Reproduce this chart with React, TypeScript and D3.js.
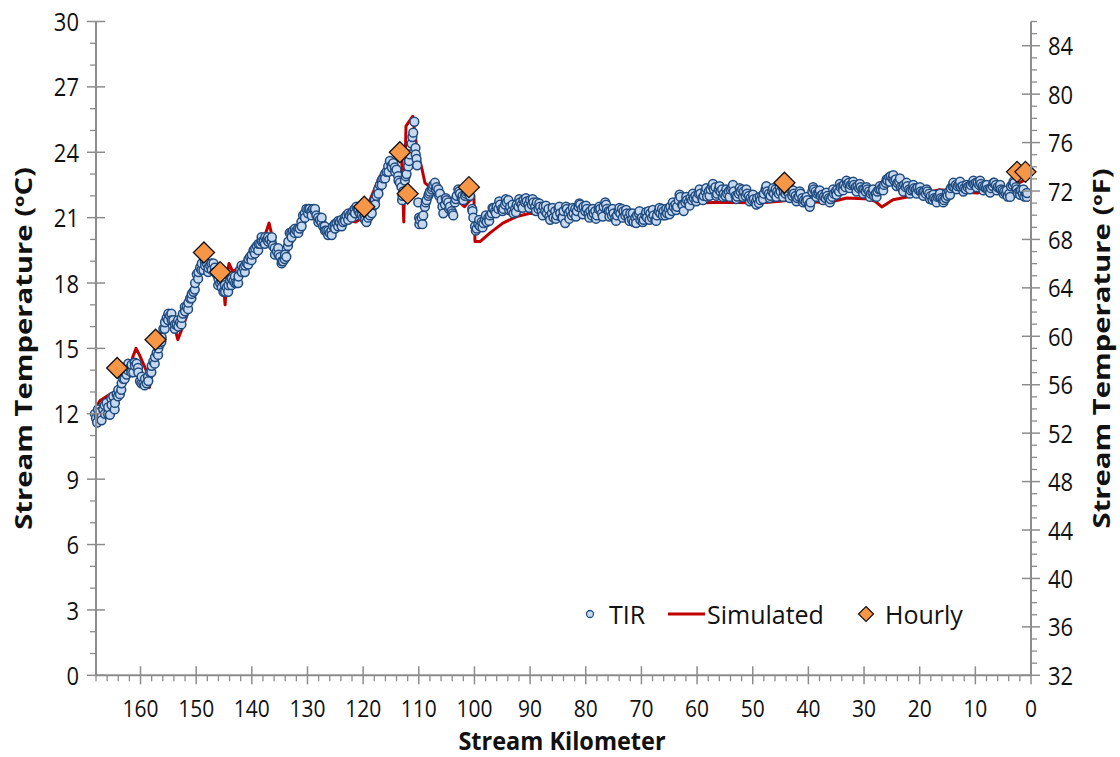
import React from "react";
import * as d3 from "d3";

// Thermal infrared (TIR) longitudinal profile: [stream km, °C]
const tirData: [number, number][] = [
  [168.2,12.0],[168.0,11.8],[167.8,11.6],[167.5,11.9],[167.2,12.1],[167.0,11.7],[166.7,12.2],[166.4,12.0],[166.1,12.5],[165.8,12.3],
  [165.5,11.95],[165.2,12.4],[164.9,12.8],[164.6,12.5],[164.3,12.9],[164.0,13.1],[163.7,12.9],[163.4,13.4],[163.1,13.6],[162.8,13.9],
  [162.5,13.8],[162.2,14.3],[161.9,14.1],[161.6,14.25],[161.3,13.9],[161.0,14.2],[160.7,14.3],[160.4,13.9],[160.1,13.5],[159.8,13.7],
  [159.5,13.4],[159.2,13.6],[158.9,13.4],[158.6,13.5],[158.3,13.9],[158.0,14.2],[157.7,14.4],[157.4,14.6],[157.1,14.8],[156.8,15.0],
  [156.5,15.2],[156.2,15.5],[155.9,15.9],[155.6,16.2],[155.3,16.4],[155.0,16.6],[154.7,16.5],[154.4,16.3],[154.1,16.3],[153.8,16.1],
  [153.5,16.1],[153.2,16.0],[152.9,16.2],[152.6,16.4],[152.4,16.6],[152.0,16.7],[151.7,16.9],[151.4,17.1],[151.1,17.3],[150.8,17.5],
  [150.5,17.6],[150.2,18.0],[149.9,18.4],[149.6,18.5],[149.3,18.7],[149.0,18.9],[148.7,18.6],[148.4,18.8],[148.1,18.9],[147.8,18.7],
  [147.5,18.8],[147.2,18.6],[146.9,18.9],[146.6,18.5],[146.3,18.4],[146.0,18.2],[145.7,18.0],[145.4,17.8],[145.1,17.6],[144.8,17.6],
  [144.5,17.8],[144.2,17.9],[143.9,18.1],[143.6,18.2],[143.3,18.1],[143.0,18.0],[142.7,18.0],[142.4,18.3],[142.1,18.6],[141.8,18.5],
  [141.5,18.7],[141.2,18.8],[140.9,18.9],[140.6,19.1],[140.3,19.2],[140.0,19.3],[139.7,19.5],[139.4,19.6],[139.1,19.7],[138.8,19.8],
  [138.5,19.8],[138.2,19.9],[137.9,19.9],[137.6,20.1],[137.3,20.0],[137.1,20.1],[136.8,20.0],[136.4,20.1],[136.2,19.7],[135.9,19.6],
  [135.5,19.45],[135.2,19.3],[134.9,19.2],[134.6,19.0],[134.4,19.0],[134.1,19.1],[133.8,19.2],[133.5,19.7],[133.2,20.3],[132.9,20.3],
  [132.6,20.4],[132.3,20.3],[132.0,20.4],[131.7,20.5],[131.4,20.5],[131.1,20.8],[130.8,21.1],[130.5,21.2],[130.2,21.4],[129.9,21.2],
  [129.6,21.4],[129.3,21.3],[129.0,21.4],[128.7,21.3],[128.4,21.1],[128.1,21.0],[127.8,20.9],[127.5,20.8],[127.2,20.6],[126.9,20.6],
  [126.6,20.4],[126.3,20.2],[126.0,20.3],[125.7,20.4],[125.4,20.6],[125.1,20.7],[124.8,20.75],[124.5,20.6],[124.2,20.8],[123.9,20.9],
  [123.6,20.8],[123.3,21.0],[123.0,21.1],[122.7,20.9],[122.4,21.1],[122.1,21.2],[121.8,21.3],[121.5,21.4],[121.2,21.5],[120.9,21.4],
  [120.6,21.2],[120.3,21.3],[120.0,21.0],[119.7,21.1],[119.4,20.8],[119.1,21.0],[118.8,21.1],[118.5,21.4],[118.2,21.6],[117.9,21.8],
  [117.6,22.0],[117.3,22.3],[117.0,22.5],[116.7,22.7],[116.4,22.8],[116.1,23.0],[115.8,23.1],[115.5,23.35],[115.2,23.6],[114.9,23.4],
  [114.6,23.5],[114.3,23.3],[114.0,23.2],[113.7,22.9],[113.4,22.6],[113.1,22.4],[113.0,21.8],[112.8,22.2],[112.5,22.7],[112.2,23.0],
  [111.9,23.35],[111.6,23.9],[111.3,24.4],[111.0,24.9],[110.8,25.4],[110.6,24.2],[110.4,23.7],[110.3,23.4],[110.1,21.7],[109.9,20.7],
  [109.8,20.9],[109.5,21.0],[109.2,21.1],[108.9,21.5],[108.6,21.8],[108.3,22.0],[108.0,22.2],[107.7,22.3],[107.4,22.5],[107.1,22.6],
  [106.8,22.4],[106.5,22.3],[106.2,22.1],[105.9,21.8],[105.6,21.2],[105.3,21.6],[105.0,21.8],[104.7,21.7],[104.4,21.5],[104.1,21.3],
  [103.8,21.1],[103.5,21.7],[103.2,22.0],[102.9,22.3],[102.6,22.1],[102.3,21.9],[102.0,21.8],[101.7,22.0],[101.4,22.2],[101.1,22.3],
  [100.8,22.0],[100.4,21.4],[100.2,21.0],[99.9,20.6],[99.6,20.5],[99.3,20.7],[99.0,20.6],[98.7,20.8],[98.4,20.75],[98.1,20.9],
  [97.8,20.8],[97.5,21.0],[97.2,21.1],[96.9,21.2],[96.6,21.4],[96.3,21.3],[96.0,21.5],[95.7,21.4],[95.4,21.6],[95.1,21.4],
  [94.8,21.4],[94.5,21.6],[94.2,21.7],[93.9,21.8],[93.6,21.5],[93.3,21.3],[93.0,21.2],[92.7,21.4],[92.4,21.6],[92.1,21.5],
  [91.8,21.7],[91.5,21.6],[91.2,21.8],[90.9,21.7],[90.6,21.74],[90.3,21.6],[90.0,21.8],[89.7,21.6],[89.4,21.7],[89.1,21.5],
  [88.8,21.7],[88.5,21.4],[88.2,21.5],[87.9,21.3],[87.6,21.5],[87.3,21.3],[87.0,21.2],[86.7,21.4],[86.4,20.9],[86.1,21.2],
  [85.8,21.0],[85.5,21.3],[85.2,21.1],[84.9,21.4],[84.6,21.2],[84.3,21.0],[84.0,21.3],[83.7,20.75],[83.4,21.4],[83.1,21.2],
  [82.8,21.3],[82.5,21.1],[82.2,21.2],[81.9,21.4],[81.6,21.3],[81.3,21.5],[81.0,21.6],[80.7,21.4],[80.4,21.5],[80.1,21.3],
  [79.8,21.4],[79.5,21.2],[79.2,21.3],[78.9,21.1],[78.6,21.2],[78.3,21.3],[78.0,21.1],[77.7,21.4],[77.4,21.4],[77.1,21.2],
  [76.8,21.5],[76.5,21.7],[76.2,21.4],[75.9,21.3],[75.6,21.3],[75.3,21.1],[75.0,21.2],[74.7,21.0],[74.4,21.1],[74.1,21.3],
  [73.8,21.2],[73.5,21.4],[73.2,21.3],[72.9,21.1],[72.6,21.2],[72.3,21.0],[72.0,21.2],[71.7,20.9],[71.4,20.8],[71.1,21.0],
  [70.8,21.1],[70.5,21.2],[70.2,20.9],[69.9,21.0],[69.6,20.9],[69.3,21.1],[69.0,21.0],[68.7,21.3],[68.4,21.2],[68.1,21.0],
  [67.8,21.1],[67.5,20.9],[67.2,21.1],[66.9,21.3],[66.6,21.2],[66.3,21.4],[66.0,21.3],[65.7,21.1],[65.4,21.2],[65.1,21.4],
  [64.8,21.5],[64.5,21.3],[64.2,21.5],[63.9,21.6],[63.6,21.5],[63.3,21.8],[63.0,21.95],[62.7,21.6],[62.4,21.3],[62.1,21.7],
  [61.8,21.8],[61.5,21.7],[61.2,21.9],[60.9,21.8],[60.6,21.9],[60.3,22.0],[60.0,21.9],[59.7,22.1],[59.4,22.1],[59.1,21.9],
  [58.8,22.0],[58.5,22.2],[58.2,21.97],[57.9,22.2],[57.6,22.3],[57.3,22.45],[57.0,22.3],[56.7,22.4],[56.4,22.1],[56.1,22.3],
  [55.8,22.2],[55.5,22.3],[55.2,22.1],[54.9,22.0],[54.6,22.1],[54.3,22.2],[54.0,22.3],[53.7,22.36],[53.4,22.2],[53.1,22.0],
  [52.8,21.97],[52.5,22.1],[52.2,22.2],[51.9,22.3],[51.6,22.2],[51.3,22.0],[51.0,22.1],[50.7,22.0],[50.4,21.9],[50.1,21.8],
  [49.8,21.85],[49.5,21.7],[49.2,21.9],[48.9,21.67],[48.6,21.8],[48.3,22.0],[48.0,22.1],[47.7,22.3],[47.4,22.2],[47.1,22.1],
  [46.8,22.0],[46.5,22.2],[46.2,22.1],[45.9,22.3],[45.6,22.2],[45.3,22.1],[45.0,22.2],[44.7,22.4],[44.4,22.2],[44.1,22.1],
  [43.8,22.2],[43.5,22.1],[43.2,22.3],[42.9,22.0],[42.6,22.1],[42.3,22.0],[42.0,21.9],[41.7,21.97],[41.4,22.1],[41.1,21.9],
  [40.8,21.8],[40.5,21.74],[40.2,21.8],[39.9,21.6],[39.6,21.7],[39.3,22.2],[39.0,22.3],[38.7,22.2],[38.4,22.1],[38.1,22.13],
  [37.8,22.0],[37.5,22.05],[37.2,21.97],[36.9,21.9],[36.6,22.0],[36.3,21.9],[36.0,21.85],[35.7,21.95],[35.4,22.1],[35.1,22.2],
  [34.8,22.3],[34.5,22.2],[34.2,22.4],[33.9,22.44],[33.6,22.5],[33.3,22.4],[33.0,22.55],[32.7,22.6],[32.4,22.5],[32.1,22.55],
  [31.8,22.5],[31.5,22.4],[31.2,22.45],[30.9,22.35],[30.6,22.4],[30.3,22.3],[30.0,22.3],[29.7,22.2],[29.4,22.3],[29.1,22.2],
  [28.8,22.1],[28.5,22.15],[28.2,22.0],[27.9,22.1],[27.6,22.2],[27.3,22.3],[27.0,22.3],[26.7,22.4],[26.4,22.5],[26.1,22.6],
  [25.8,22.7],[25.5,22.85],[25.2,22.9],[24.9,22.8],[24.6,22.7],[24.3,22.75],[24.0,22.6],[23.7,22.65],[23.4,22.4],[23.1,22.36],
  [22.8,22.5],[22.5,22.4],[22.2,22.45],[21.9,22.3],[21.6,22.25],[21.3,22.3],[21.0,22.35],[20.7,22.3],[20.4,22.36],[20.1,22.25],
  [19.8,22.2],[19.5,22.15],[19.2,22.2],[18.9,22.1],[18.6,22.2],[18.3,22.1],[18.0,22.0],[17.7,21.82],[17.4,21.9],[17.1,21.85],
  [16.8,21.95],[16.5,21.97],[16.2,21.9],[15.9,21.85],[15.6,21.8],[15.3,21.9],[15.0,22.0],[14.7,22.2],[14.4,22.35],[14.1,22.44],
  [13.8,22.4],[13.5,22.5],[13.2,22.45],[12.9,22.5],[12.6,22.4],[12.3,22.45],[12.0,22.35],[11.7,22.3],[11.4,22.4],[11.1,22.45],
  [10.8,22.5],[10.5,22.6],[10.2,22.55],[9.9,22.6],[9.6,22.59],[9.3,22.5],[9.0,22.55],[8.7,22.45],[8.4,22.4],[8.1,22.35],
  [7.8,22.3],[7.5,22.28],[7.2,22.35],[6.9,22.45],[6.6,22.6],[6.3,22.5],[6.0,22.4],[5.7,22.36],[5.4,22.3],[5.1,22.25],
  [4.8,22.2],[4.5,22.1],[4.2,21.97],[3.9,22.1],[3.6,22.44],[3.3,22.5],[3.0,22.59],[2.7,22.4],[2.4,22.13],[2.1,22.2],
  [1.8,22.25],[1.5,22.1],[1.2,21.97],[0.9,22.1],[0.7,22.13],
];

// Second TIR pass, sampled between the first pass locations
const tirDataB: [number, number][] = [
  [167.65,12.2],[167.05,11.85],[166.45,12.4],[165.85,12.0],[165.25,12.7],[164.65,12.2],[164.05,12.8],[163.45,13.1],[162.85,13.6],[162.25,14.0],
  [161.65,13.9],[161.05,14.35],[160.45,14.1],[159.85,13.4],[159.25,13.3],[158.65,13.7],[158.05,13.9],[157.45,14.3],[156.85,14.7],[156.25,15.3],
  [155.65,15.9],[155.05,16.3],[154.45,16.6],[153.85,15.9],[153.25,16.3],[152.65,16.1],[152.05,16.9],[151.45,16.8],[150.85,17.3],[150.25,17.7],
  [149.65,18.2],[149.05,18.6],[148.45,19.0],[147.85,18.5],[147.25,18.9],[146.65,18.7],[146.05,17.9],[145.45,18.1],[144.85,17.9],[144.25,17.6],
  [143.65,17.9],[143.05,18.3],[142.45,18.0],[141.85,18.8],[141.25,18.5],[140.65,18.85],[140.05,19.05],[139.45,19.35],[138.85,19.5],[138.25,20.1],
  [137.65,19.8],[137.05,19.9],[136.45,19.9],[135.85,19.3],[135.25,19.6],[134.65,18.9],[134.05,19.3],[133.45,19.9],[132.85,20.1],[132.25,20.5],
  [131.65,20.3],[131.05,20.6],[130.45,21.0],[129.85,21.4],[129.25,21.1],[128.65,21.4],[128.05,20.8],[127.45,21.0],[126.85,20.4],[126.25,20.4],
  [125.65,20.2],[125.05,20.5],[124.45,20.85],[123.85,20.6],[123.25,20.85],[122.65,21.2],[122.05,21.0],[121.45,21.2],[120.85,21.3],[120.25,21.1],
  [119.65,20.9],[119.05,21.2],[118.45,21.2],[117.85,21.6],[117.25,22.1],[116.65,22.5],[116.05,22.8],[115.45,23.1],[114.85,23.3],[114.25,23.1],
  [113.65,22.7],[112.95,22.0],[112.35,22.9],[111.75,23.6],[111.15,24.7],[110.55,23.9],[109.95,21.0],[109.35,20.7],[108.75,21.7],[108.15,22.1],
  [107.55,22.4],[106.95,22.3],[106.35,22.0],[105.75,21.5],[105.15,21.9],[104.55,21.4],[103.95,21.2],[103.35,21.85],[102.75,22.2],[102.15,22.0],
  [101.55,22.1],[100.95,22.1],[100.35,21.3],
  [99.75,20.4],[99.15,20.9],[98.55,20.55],[97.95,21.1],[97.35,20.85],[96.75,21.45],[96.15,21.2],[95.55,21.75],[94.95,21.3],[94.35,21.85],
  [93.75,21.35],[93.15,21.6],[92.55,21.25],[91.95,21.85],[91.35,21.45],[90.75,21.9],[90.15,21.45],[89.55,21.85],[88.95,21.3],[88.35,21.65],
  [87.75,21.1],[87.15,21.55],[86.55,21.05],[85.95,21.45],[85.35,20.95],[84.75,21.5],[84.15,21.0],[83.55,21.5],[82.95,20.95],[82.35,21.45],
  [81.75,21.05],[81.15,21.65],[80.55,21.15],[79.95,21.55],[79.35,21.0],[78.75,21.4],[78.15,20.95],[77.55,21.5],[76.95,21.05],[76.35,21.6],
  [75.75,21.05],[75.15,21.4],[74.55,20.85],[73.95,21.45],[73.35,21.0],[72.75,21.35],[72.15,20.85],[71.55,21.2],[70.95,20.75],[70.35,21.3],
  [69.75,20.8],[69.15,21.25],[68.55,20.9],[67.95,21.35],[67.35,20.85],[66.75,21.45],[66.15,21.1],[65.55,21.4],[64.95,21.15],[64.35,21.7],
  [63.75,21.35],[63.15,22.05],[62.55,21.55],[61.95,21.95],[61.35,21.55],[60.75,22.1],[60.15,21.75],[59.55,22.3],[58.95,21.8],[58.35,22.35],
  [57.75,22.0],[57.15,22.55],[56.55,22.0],[55.95,22.45],[55.35,21.95],[54.75,22.3],[54.15,21.95],[53.55,22.5],[52.95,21.85],[52.35,22.35],
  [51.75,21.95],[51.15,22.3],[50.55,21.75],[49.95,22.05],[49.35,21.6],[48.75,21.95],[48.15,21.85],[47.55,22.45],[46.95,21.9],[46.35,22.35],
  [45.75,21.95],[45.15,22.4],[44.55,21.95],[43.95,22.35],[43.35,21.9],[42.75,22.25],[42.15,21.75],[41.55,22.2],[40.95,21.7],[40.35,21.95],
  [39.75,21.5],[39.15,22.4],[38.55,21.95],[37.95,22.25],[37.35,21.8],[36.75,22.15],[36.15,21.7],[35.55,22.3],[34.95,22.05],[34.35,22.55],
  [33.75,22.25],[33.15,22.7],[32.55,22.35],[31.95,22.65],[31.35,22.2],[30.75,22.55],[30.15,22.1],[29.55,22.4],[28.95,21.95],[28.35,22.3],
  [27.75,21.95],[27.15,22.45],[26.55,22.25],[25.95,22.75],[25.35,22.65],[24.75,22.95],[24.15,22.45],[23.55,22.8],[22.95,22.2],[22.35,22.6],
  [21.75,22.1],[21.15,22.5],[20.55,22.1],[19.95,22.4],[19.35,22.0],[18.75,22.3],[18.15,21.85],[17.55,22.05],[16.95,21.7],[16.35,22.1],
  [15.75,21.7],[15.15,22.1],[14.55,22.05],[13.95,22.6],[13.35,22.3],[12.75,22.65],[12.15,22.2],[11.55,22.5],[10.95,22.3],[10.35,22.7],
  [9.75,22.4],[9.15,22.7],[8.55,22.25],[7.95,22.5],[7.35,22.15],[6.75,22.6],[6.15,22.25],[5.55,22.5],[4.95,22.1],[4.35,22.25],
  [3.75,21.95],[3.15,22.65],[2.55,22.3],[1.95,22.05],[1.35,22.3],[0.75,21.95],
];

// Simulated stream temperature: [stream km, °C]
const simulatedData: [number, number][] = [
  [168.0,12.3],[167.3,12.6],[165.5,12.9],[163.7,13.1],[162.4,13.5],[161.4,14.6],[160.8,15.0],[160.2,14.7],[159.0,14.0],[158.4,13.2],
  [157.6,14.6],[156.9,15.3],[156.0,15.8],[154.7,16.2],[153.8,15.9],[153.3,15.4],[152.4,16.0],[151.1,16.9],[149.9,18.1],[148.8,18.9],
  [147.5,18.8],[146.1,18.5],[145.2,18.2],[144.8,17.0],[144.5,18.3],[144.1,18.9],[143.4,18.5],[142.1,18.8],[140.3,19.3],[138.5,19.9],
  [137.5,20.3],[136.9,20.75],[136.4,20.2],[135.3,19.5],[134.2,19.1],[133.2,19.6],[132.1,20.3],[130.5,21.0],[129.3,21.2],[127.8,20.9],
  [126.5,20.5],[125.4,20.6],[123.3,20.9],[121.3,20.8],[120.2,21.0],[118.8,21.8],[117.0,22.9],[114.0,23.7],[113.1,23.9],[112.7,20.8],
  [112.3,25.2],[111.1,25.65],[110.3,24.1],[109.4,23.2],[108.9,22.6],[108.0,22.4],[106.0,22.3],[104.8,21.8],[103.5,21.9],[101.8,21.5],
  [100.8,21.8],[100.1,22.0],[99.9,19.9],[99.0,19.9],[97.2,20.3],[94.9,20.75],[92.4,21.05],[90.0,21.2],[87.0,21.1],[84.6,21.45],
  [81.0,21.3],[77.4,21.2],[73.3,21.0],[71.5,20.83],[68.5,21.1],[64.9,21.5],[60.0,21.67],[57.1,21.7],[52.8,21.7],[48.7,21.67],
  [45.1,21.75],[42.8,21.82],[36.7,21.67],[33.1,21.9],[29.0,21.85],[28.0,21.75],[26.8,21.49],[24.8,21.82],[21.8,21.97],[16.4,22.28],
  [9.7,22.13],[6.8,22.28],[3.2,22.43],[1.4,22.7],[0.7,22.9],
];

// Hourly logger readings
const hourlyKm = [164.2, 157.3, 148.6, 145.7, 119.8, 113.4, 112.0, 101.0, 44.3, 2.5, 1.0];
const hourlyTemp = [14.1, 15.4, 19.4, 18.5, 21.5, 24.0, 22.1, 22.4, 22.6, 23.1, 23.1];

// Axis ticks
const kmTicks = [160, 150, 140, 130, 120, 110, 100, 90, 80, 70, 60, 50, 40, 30, 20, 10, 0];
const celsiusTicks = [0, 3, 6, 9, 12, 15, 18, 21, 24, 27, 30];
const fahrenheitTicks = [32, 36, 40, 44, 48, 52, 56, 60, 64, 68, 72, 76, 80, 84];

const W = 1120;
const H = 757;
const plot = { left: 96, right: 1031, top: 21.5, bottom: 675.3 };

const axisColor = "#8c8c8c";
const font = "'Open Sans', 'Noto Sans', sans-serif";
const ink = "#111";

// Text drawn slightly taller than wide, like the narrow face used on the axes.
function TallText(props: {
  x: number;
  y: number;
  size: number;
  anchor?: "start" | "middle" | "end";
  stretch?: number;
  bold?: boolean;
  rotate?: number;
  children: React.ReactNode;
}) {
  const { x, y, size, anchor = "middle", stretch = 1.15, bold = false, rotate = 0, children } = props;
  const t = rotate
    ? `translate(${x},${y}) rotate(${rotate}) scale(${stretch},1)`
    : `translate(${x},${y}) scale(1,${stretch})`;
  return (
    <text
      transform={t}
      textAnchor={anchor}
      dominantBaseline="central"
      fontSize={size}
      fontWeight={bold ? "bold" : "normal"}
      fill={ink}
    >
      {children}
    </text>
  );
}

export default function App() {
  const x = d3.scaleLinear().domain([168, 0]).range([plot.left, plot.right]);
  const y = d3.scaleLinear().domain([0, 30]).range([plot.bottom, plot.top]);
  const yF = d3.scaleLinear().domain([32, 86]).range([plot.bottom, plot.top]);

  const line = d3
    .line<[number, number]>()
    .x((d) => x(d[0]))
    .y((d) => y(d[1]));

  const kmMinor = d3.range(0, 169, 2).filter((v) => v % 10 !== 0);
  const cMinor = d3.range(0, 31, 1).filter((v) => v % 3 !== 0);
  const fMinor = d3.range(32, 87, 1).filter((v) => v % 4 !== 0);

  const diamond = (cx: number, cy: number, r: number) =>
    `M${cx},${cy - r}L${cx + r},${cy}L${cx},${cy + r}L${cx - r},${cy}Z`;

  const legendY = 614;
  const midY = (plot.top + plot.bottom) / 2;
  const tirAll = [...tirData, ...tirDataB].sort((a, b) => b[0] - a[0]);

  return (
    <svg
      width={W}
      height={H}
      style={{ position: "absolute", left: 0, top: 0, background: "#fff" }}
      fontFamily={font}
    >
      <rect x={0} y={0} width={W} height={H} fill="#fff" />

      {/* simulated profile */}
      <path d={line(simulatedData) ?? ""} fill="none" stroke="#c00000" strokeWidth={3} strokeLinejoin="round" />

      {/* TIR samples */}
      <g>
        {tirAll.map((d, i) => (
          <circle
            key={i}
            cx={x(d[0])}
            cy={y(d[1])}
            r={4.4}
            fill="#c6d9f1"
            stroke="#1f4a7e"
            strokeWidth={1.5}
          />
        ))}
      </g>

      {/* hourly readings */}
      <g>
        {hourlyKm.map((k, i) => (
          <path
            key={i}
            d={diamond(x(k), y(hourlyTemp[i]), 10.5)}
            fill="#f79646"
            stroke={ink}
            strokeWidth={1.3}
          />
        ))}
      </g>

      {/* left axis */}
      <line x1={plot.left} x2={plot.left} y1={plot.top} y2={plot.bottom} stroke={axisColor} strokeWidth={2} />
      {cMinor.map((v) => (
        <line key={"cm" + v} x1={plot.left - 6} x2={plot.left} y1={y(v)} y2={y(v)} stroke={axisColor} strokeWidth={1.3} />
      ))}
      {celsiusTicks.map((v) => (
        <g key={"c" + v}>
          <line x1={plot.left - 9} x2={plot.left + 9} y1={y(v)} y2={y(v)} stroke={axisColor} strokeWidth={1.5} />
          <TallText x={79} y={y(v)} size={22} anchor="end">
            {v}
          </TallText>
        </g>
      ))}

      {/* right axis */}
      <line x1={plot.right} x2={plot.right} y1={plot.top} y2={plot.bottom} stroke={axisColor} strokeWidth={2} />
      {fMinor.map((v) => (
        <line key={"fm" + v} x1={plot.right} x2={plot.right + 6} y1={yF(v)} y2={yF(v)} stroke={axisColor} strokeWidth={1.3} />
      ))}
      {fahrenheitTicks.map((v) => (
        <g key={"f" + v}>
          <line x1={plot.right - 9} x2={plot.right + 9} y1={yF(v)} y2={yF(v)} stroke={axisColor} strokeWidth={1.5} />
          <TallText x={1048} y={yF(v)} size={22} anchor="start">
            {v}
          </TallText>
        </g>
      ))}

      {/* bottom axis */}
      <line x1={plot.left} x2={plot.right} y1={plot.bottom} y2={plot.bottom} stroke={axisColor} strokeWidth={2} />
      {kmMinor.map((v) => (
        <line key={"km" + v} x1={x(v)} x2={x(v)} y1={plot.bottom} y2={plot.bottom + 6} stroke={axisColor} strokeWidth={1.3} />
      ))}
      {kmTicks.map((v) => (
        <g key={"k" + v}>
          <line x1={x(v)} x2={x(v)} y1={plot.bottom - 9} y2={plot.bottom + 9} stroke={axisColor} strokeWidth={1.5} />
          <TallText x={x(v)} y={708} size={21}>
            {v}
          </TallText>
        </g>
      ))}

      {/* axis titles */}
      <TallText x={23} y={midY} size={22.5} bold rotate={-90} stretch={1.3}>
        Stream Temperature (ºC)
      </TallText>
      <TallText x={1101} y={midY} size={22.5} bold rotate={-90} stretch={1.3}>
        Stream Temperature (ºF)
      </TallText>
      <TallText x={562} y={740} size={23.5} bold stretch={1.05}>
        Stream Kilometer
      </TallText>

      {/* legend */}
      <g>
        <circle cx={590} cy={legendY} r={3.5} fill="#c6d9f1" stroke="#24538a" strokeWidth={1.3} />
        <TallText x={609} y={legendY} size={25} anchor="start" stretch={1.05}>TIR</TallText>
        <line x1={668} x2={705} y1={legendY} y2={legendY} stroke="#c00000" strokeWidth={3} />
        <TallText x={707} y={legendY} size={25} anchor="start" stretch={1.05}>Simulated</TallText>
        <path d={diamond(866, legendY, 7.5)} fill="#f79646" stroke={ink} strokeWidth={1.2} />
        <TallText x={885} y={legendY} size={25} anchor="start" stretch={1.05}>Hourly</TallText>
      </g>
    </svg>
  );
}
